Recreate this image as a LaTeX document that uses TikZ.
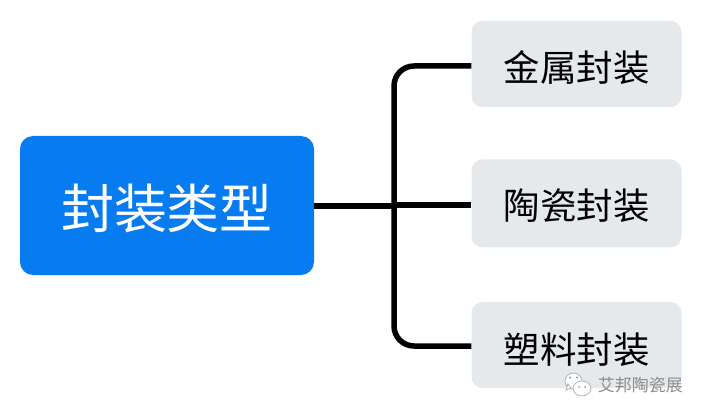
\documentclass[tikz,border=0pt]{standalone}
\usepackage{fontspec}
\newfontfamily\cjk{Noto Sans CJK SC}
\usetikzlibrary{calc}
\definecolor{rootblue}{HTML}{077BF0}
\definecolor{leafgrey}{HTML}{E6E9EC}
\begin{document}
\begin{tikzpicture}[x=1pt,y=-1pt,
  rootbox/.style={fill=rootblue,rounded corners=13pt,minimum width=294pt,minimum height=139pt,inner sep=0pt,text=white,text height=46pt,text depth=0pt,font=\cjk\fontsize{53}{53}\selectfont},
  leafbox/.style={fill=leafgrey,rounded corners=11pt,minimum width=210pt,inner sep=0pt,text=black,text depth=0pt,font=\cjk\fontsize{36.5}{36.5}\selectfont},
  link/.style={line width=5.5pt,draw=black,rounded corners=20pt},
  mark text/.style={text=black!45,inner sep=0pt,font=\cjk\fontsize{17}{17}\selectfont},
  bubble/.style={fill=white,draw=black!30,line width=0.8pt},
  bubble dot/.style={fill=black!40,draw=none}]
\useasboundingbox (0,0) rectangle (705,417);
\fill[white] (0,0) rectangle (705,417);
\node[rootbox] (root) at (167,205.5) {封装类型};
\node[leafbox,minimum height=86pt,text height=36pt] (a) at (576.5,64) {金属封装};
\node[leafbox,minimum height=88pt,text height=33pt] (b) at (576.5,203.5) {陶瓷封装};
\node[leafbox,minimum height=86pt,text height=36pt] (c) at (576.5,345) {塑料封装};
\coordinate (mid) at (394,206);
\coordinate (midb) at (394,205);
\draw[link] (root.east |- mid) -- (mid);
\draw[link] (midb) -- (b.west |- midb);
\draw[link] ([yshift=-2pt]a.west) -- ([yshift=-2pt]mid |- a.west) -- ([yshift=-1pt]mid |- c.west) -- ([yshift=-1pt]c.west);
\node[mark text,anchor=east] (wm) at (683,385.5) {艾邦陶瓷展};
\draw[bubble] (573.5,381) ellipse (8.5pt and 8pt);
\draw[bubble] (566,390) -- (568,384) -- (571,388) -- cycle;
\draw[bubble] (582,388.5) ellipse (9pt and 7.5pt);
\fill[bubble dot] (570,377.5) circle (1.1pt) (577,377.5) circle (1.1pt) (579,387) circle (1pt) (585,387) circle (1pt);
\end{tikzpicture}
\end{document}
